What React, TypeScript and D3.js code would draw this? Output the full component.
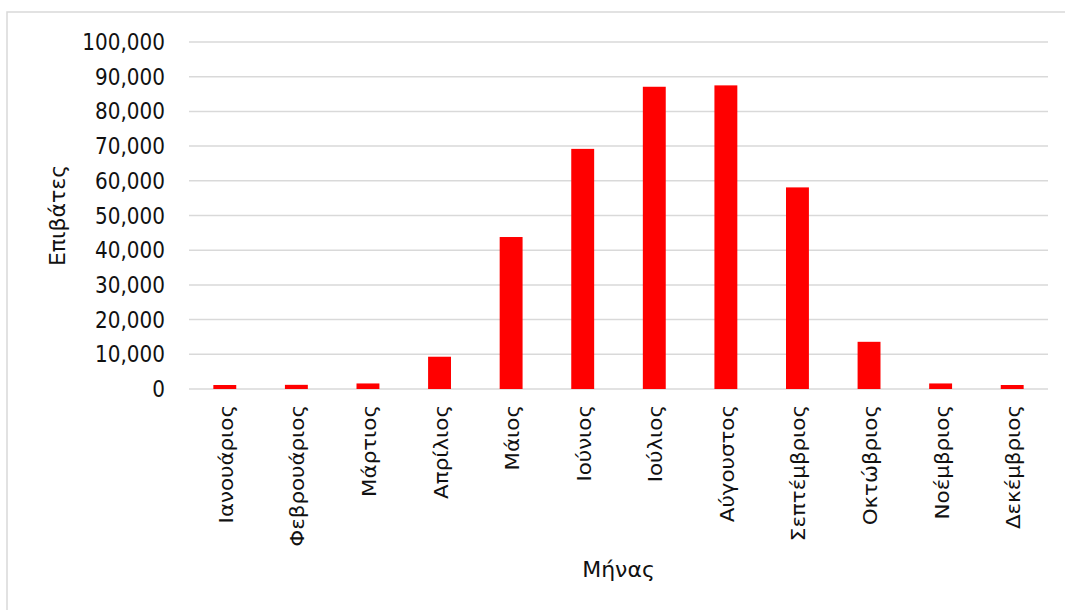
import React from 'react';
import { scaleBand, scaleLinear, format } from 'd3';

const months = [
  'Ιανουάριος', 'Φεβρουάριος', 'Μάρτιος', 'Απρίλιος', 'Μάιος', 'Ιούνιος',
  'Ιούλιος', 'Αύγουστος', 'Σεπτέμβριος', 'Οκτώβριος', 'Νοέμβριος', 'Δεκέμβριος'
];
const passengers = [1150, 1200, 1600, 9300, 43800, 69200, 87100, 87500, 58100, 13600, 1600, 1150];
const yTicks = [0, 10000, 20000, 30000, 40000, 50000, 60000, 70000, 80000, 90000, 100000];

const width = 1065;
const height = 610;
const margin = { top: 42, right: 17, bottom: 221, left: 189 };
const font = '"DejaVu Sans", Verdana, sans-serif';

const App = () => {
  const xRange = [margin.left, width - margin.right];
  const yRange = [height - margin.bottom, margin.top];

  const xScale = scaleBand().domain(months).range(xRange).paddingInner(0.68).paddingOuter(0.34);
  const yScale = scaleLinear().domain([0, 100000]).range(yRange);
  const fmt = format(',');

  return (
    <svg width={width} height={height} style={{ position: 'absolute', left: 0, top: 0, background: 'white' }}>
      <rect x={7} y={12} width={width} height={height} fill="white" stroke="#d9d9d9" strokeWidth={1.5} />
      {yTicks.map(t => (
        <g key={t} transform={`translate(0, ${yScale(t)})`}>
          <line x1={xRange[0]} x2={xRange[1]} stroke="#d9d9d9" strokeWidth={1.5} />
          <text
            transform="translate(165, 0) scale(1, 1.12)"
            dy="0.36em"
            textAnchor="end"
            fontFamily={font}
            fontSize={20}
            fill="#111"
          >
            {fmt(t)}
          </text>
        </g>
      ))}
      {months.map((m, i) => {
        const x = xScale(m) as number;
        const y = yScale(passengers[i]);
        return (
          <rect key={m} x={x} y={y} width={xScale.bandwidth()} height={yRange[0] - y} fill="#ff0000" />
        );
      })}
      {months.map(m => {
        const cx = (xScale(m) as number) + xScale.bandwidth() / 2;
        return (
          <text
            key={m}
            transform={`translate(${cx + 1}, 405) scale(1, 1.07) rotate(-90)`}
            dy="0.35em"
            textAnchor="end"
            fontFamily={font}
            fontSize={20}
            fill="#111"
          >
            {m}
          </text>
        );
      })}
      <text
        transform={`translate(57, ${(yRange[0] + yRange[1]) / 2}) rotate(-90)`}
        dy="0.35em"
        textAnchor="middle"
        fontFamily={font}
        fontSize={22}
        fill="#111"
      >
        Επιβάτες
      </text>
      <text
        x={(xRange[0] + xRange[1]) / 2}
        y={569}
        dy="0.35em"
        textAnchor="middle"
        fontFamily={font}
        fontSize={22}
        fill="#111"
      >
        Μήνας
      </text>
    </svg>
  );
};

export default App;
